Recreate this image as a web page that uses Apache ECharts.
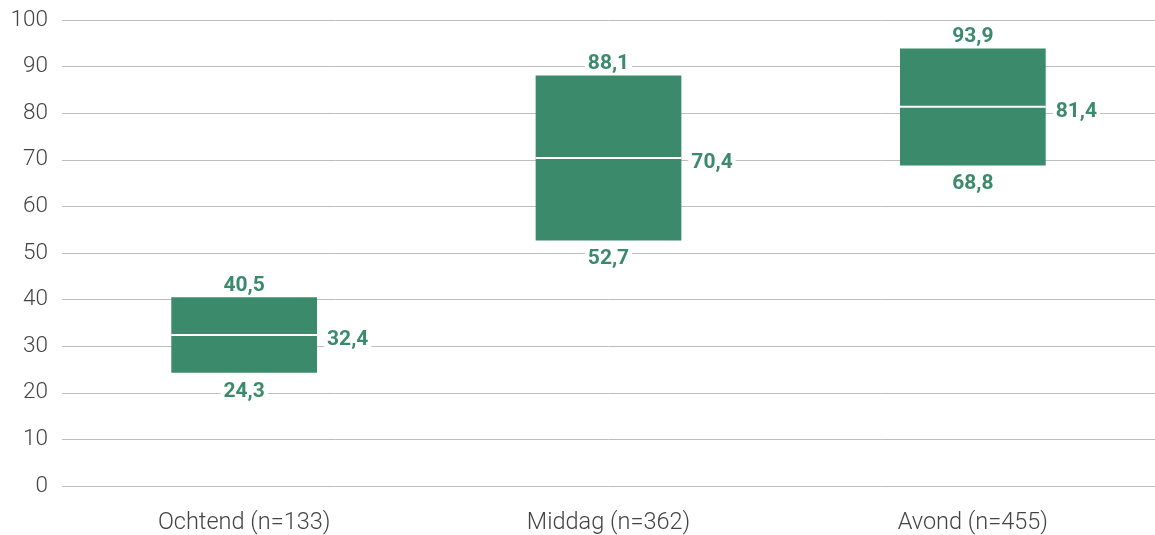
<!DOCTYPE html>
<html>
<head>
<meta charset="utf-8">
<script src="https://cdn.jsdelivr.net/npm/echarts@6/dist/echarts.min.js"></script>
<style>
  html, body { margin: 0; padding: 0; background: #fff; }
  #chart { width: 1155px; height: 535px; }
</style>
</head>
<body>
<div id="chart"></div>
<script>
// Time-of-day ranges: lower bound, median and upper bound per group
const categories = ['Ochtend (n=133)', 'Middag (n=362)', 'Avond (n=455)'];
const lowValues = [24.3, 52.7, 68.8];
const medianValues = [32.4, 70.4, 81.4];
const highValues = [40.5, 88.1, 93.9];
const yTicks = [0, 10, 20, 30, 40, 50, 60, 70, 80, 90, 100];

const GREEN = '#3b8a6c';
const fmt = v => v.toFixed(1).replace('.', ',');

const rows = categories.map((c, i) => [i, lowValues[i], medianValues[i], highValues[i]]);

const labelFont = 'bold 21px Roboto';

function renderItem(params, api) {
  const idx = api.value(0);
  const low = api.value(1), med = api.value(2), high = api.value(3);
  const bandW = api.size([1, 0])[0];
  const boxW = bandW * 0.4;
  const pLow = api.coord([idx, low]);
  const pMed = api.coord([idx, med]);
  const pHigh = api.coord([idx, high]);
  const x0 = pLow[0] - boxW / 2;
  const x1 = pLow[0] + boxW / 2;
  return {
    type: 'group',
    children: [
      {
        type: 'rect',
        shape: { x: x0, y: pHigh[1], width: boxW, height: pLow[1] - pHigh[1] },
        style: { fill: GREEN }
      },
      {
        type: 'line',
        shape: { x1: x0, y1: pMed[1], x2: x1, y2: pMed[1] },
        style: { stroke: '#ffffff', lineWidth: 2 }
      },
      {
        // upper bound, above the box
        type: 'text',
        style: {
          text: fmt(high), x: pHigh[0], y: pHigh[1] - 1,
          align: 'center', verticalAlign: 'bottom',
          font: labelFont, fill: GREEN,
          backgroundColor: '#ffffff', padding: [0, 3]
        }
      },
      {
        // median, right of the box
        type: 'text',
        style: {
          text: fmt(med), x: x1 + 7, y: pMed[1] + 5,
          align: 'left', verticalAlign: 'middle',
          font: labelFont, fill: GREEN,
          backgroundColor: '#ffffff', padding: [0, 3]
        }
      },
      {
        // lower bound, below the box
        type: 'text',
        style: {
          text: fmt(low), x: pLow[0], y: pLow[1] + 8,
          align: 'center', verticalAlign: 'top',
          font: labelFont, fill: GREEN,
          backgroundColor: '#ffffff', padding: [0, 3]
        }
      }
    ]
  };
}

const chart = echarts.init(document.getElementById('chart'), null, { renderer: 'canvas' });
chart.setOption({
  animation: false,
  backgroundColor: '#ffffff',
  grid: { left: 62, right: 0, top: 20, bottom: 48, containLabel: false },
  xAxis: {
    type: 'category',
    data: categories,
    axisLine: { show: false },
    axisTick: { show: false },
    axisLabel: {
      color: '#444444', fontFamily: 'Roboto', fontWeight: 300, fontSize: 23.5, margin: 25
    }
  },
  yAxis: {
    type: 'value',
    min: yTicks[0],
    max: yTicks[yTicks.length - 1],
    interval: yTicks[1] - yTicks[0],
    axisLine: { show: false },
    axisTick: { show: false },
    axisLabel: {
      color: '#444444', fontFamily: 'Roboto', fontWeight: 300, fontSize: 22.5, margin: 14
    },
    splitLine: { lineStyle: { color: '#bdbdbd', width: 1 } }
  },
  series: [{
    type: 'custom',
    renderItem: renderItem,
    encode: { x: 0, y: [1, 2, 3] },
    data: rows,
    z: 10
  }]
});
</script>
</body>
</html>
